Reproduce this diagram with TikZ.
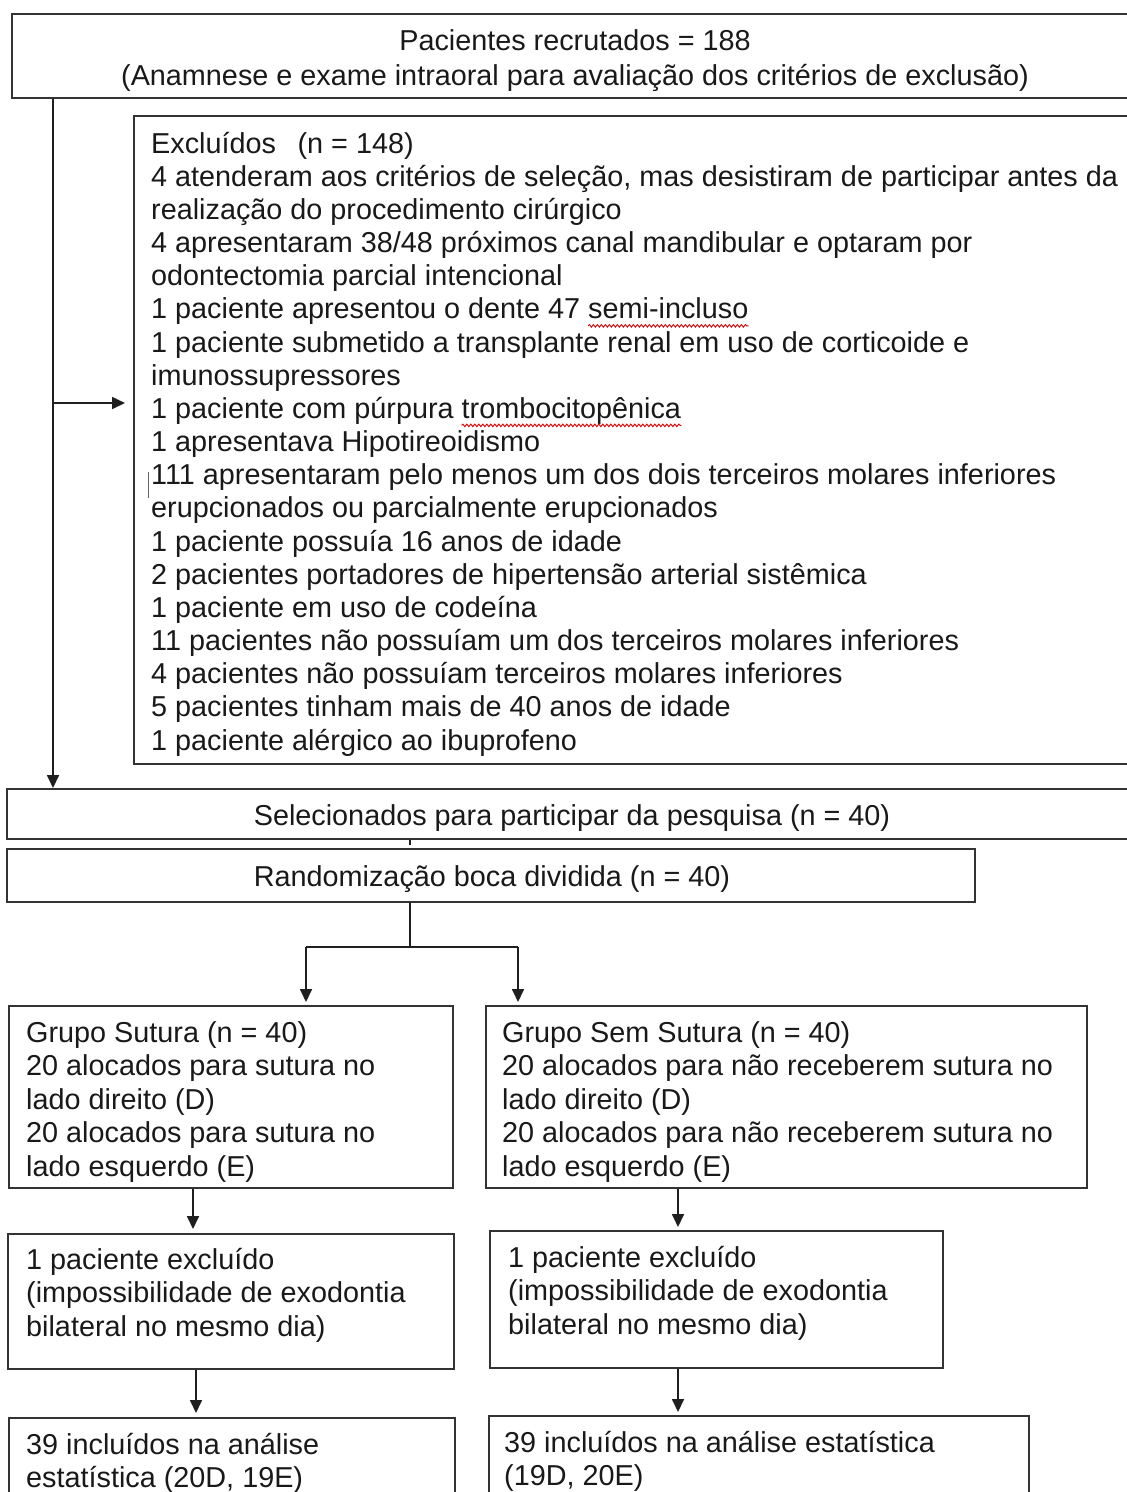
\documentclass[tikz,border=0pt]{standalone}
\usepackage{fontspec}
\setmainfont{Liberation Sans}
\usetikzlibrary{arrows.meta,decorations.pathmorphing,calc}
\begin{document}
\begin{tikzpicture}[x=1pt,y=-1pt,
  box/.style={draw=black!80, line width=1.7pt, inner sep=0pt, anchor=north west, rectangle},
  txt/.style={inner sep=0pt, anchor=base west, text=black!90, font=\fontsize{28.8}{33}\selectfont},
  ctxt/.style={txt, anchor=base},
  ln/.style={draw=black!88, line width=1.7pt},
  arr/.style={ln, -{Triangle[length=13pt,width=12pt]}},
  wavy/.style={draw=red!85!black, line width=0.9pt, decorate, decoration={snake, amplitude=1.3pt, segment length=4pt}},
]
\useasboundingbox (0,0) rectangle (1127,1492);
\clip (0,0) rectangle (1127,1492);
\fill[white] (0,0) rectangle (1127,1492);

% boxes
\node[box, minimum width=1140pt, minimum height=84pt] (top) at (11,13) {};
\node[box, minimum width=1010pt, minimum height=648pt] (excl) at (133,115) {};
\node[box, minimum width=1140pt, minimum height=50pt] (sel) at (6,788) {};
\node[box, minimum width=968pt, minimum height=53pt] (rand) at (6,848) {};
\node[box, minimum width=444pt, minimum height=182pt] (g1) at (8,1005) {};
\node[box, minimum width=601pt, minimum height=182pt] (g2) at (485,1005) {};
\node[box, minimum width=446pt, minimum height=135pt] (e1) at (7,1233) {};
\node[box, minimum width=453pt, minimum height=137pt] (e2) at (489,1230) {};
\node[box, minimum width=446pt, minimum height=110pt] (r1) at (8,1417) {};
\node[box, minimum width=540pt, minimum height=110pt] (r2) at (488,1415) {};

% texts
\node[ctxt] (t1) at (575,50) {Pacientes recrutados = 188};
\node[ctxt] (t2) at (575,85) {(Anamnese e exame intraoral para avaliação dos critérios de exclusão)};

\foreach \t [count=\i] in {
  {Excluídos\hspace{0.75em}(n = 148)},
  {4 atenderam aos critérios de seleção, mas desistiram de participar antes da},
  {realização do procedimento cirúrgico},
  {4 apresentaram 38/48 próximos canal mandibular e optaram por},
  {odontectomia parcial intencional},
  {1 paciente apresentou o dente 47 semi-incluso},
  {1 paciente submetido a transplante renal em uso de corticoide e},
  {imunossupressores},
  {1 paciente com púrpura trombocitopênica},
  {1 apresentava Hipotireoidismo},
  {111 apresentaram pelo menos um dos dois terceiros molares inferiores},
  {erupcionados ou parcialmente erupcionados},
  {1 paciente possuía 16 anos de idade},
  {2 pacientes portadores de hipertensão arterial sistêmica},
  {1 paciente em uso de codeína},
  {11 pacientes não possuíam um dos terceiros molares inferiores},
  {4 pacientes não possuíam terceiros molares inferiores},
  {5 pacientes tinham mais de 40 anos de idade},
  {1 paciente alérgico ao ibuprofeno}} {
  \node[txt] (ex\i) at (151,{153+(\i-1)*33.17}) {\t};
}
\node[txt, anchor=base east] (w1) at (ex6.base east) {\phantom{semi-incluso}};
\node[txt, anchor=base east] (w2) at (ex9.base east) {\phantom{trombocitopênica}};
\draw[wavy] ($(w1.base west)+(0,7)$) -- ($(w1.base east)+(0,7)$);
\draw[wavy] ($(w2.base west)+(0,7)$) -- ($(w2.base east)+(0,7)$);
\draw[draw=black!60, line width=1pt] (148,472) -- (148,498);

\node[ctxt] (ts) at (572,825) {Selecionados para participar da pesquisa (n = 40)};
\node[ctxt] (tr) at (492,886) {Randomização boca dividida (n = 40)};

\foreach \t [count=\i] in {
  {Grupo Sutura (n = 40)},
  {20 alocados para sutura no},
  {lado direito (D)},
  {20 alocados para sutura no},
  {lado esquerdo (E)}} {
  \node[txt] (ga\i) at (26,{1042+(\i-1)*33.5}) {\t};
}
\foreach \t [count=\i] in {
  {Grupo Sem Sutura (n = 40)},
  {20 alocados para não receberem sutura no},
  {lado direito (D)},
  {20 alocados para não receberem sutura no},
  {lado esquerdo (E)}} {
  \node[txt] (gb\i) at (502,{1042+(\i-1)*33.5}) {\t};
}
\foreach \t [count=\i] in {
  {1 paciente excluído},
  {(impossibilidade de exodontia},
  {bilateral no mesmo dia)}} {
  \node[txt] (ea\i) at (26,{1269+(\i-1)*33.5}) {\t};
  \node[txt] (eb\i) at (508,{1267+(\i-1)*33.5}) {\t};
}
\node[txt] (ra1) at (26,1454) {39 incluídos na análise};
\node[txt] (ra2) at (26,1487) {estatística (20D, 19E)};
\node[txt] (rb1) at (504,1452) {39 incluídos na análise estatística};
\node[txt] (rb2) at (504,1485) {(19D, 20E)};

% connectors
\coordinate (lx) at (53,0);
\coordinate (bend) at (53,403);
\draw[arr] (top.south -| lx) -- (sel.north -| lx);
\draw[arr, shorten >=8pt] (bend) -- (bend -| excl.west);

\coordinate (mx) at (410,0);
\draw[ln] (sel.south -| mx) -- ++(0,5);
\coordinate (sp) at (410,947);
\coordinate (bl) at (306,947);
\coordinate (br) at (518,947);
\draw[ln] (rand.south -| sp) -- (sp);
\draw[ln] (bl) -- (br);
\draw[arr, shorten >=3pt] (bl) -- (bl |- g1.north);
\draw[arr, shorten >=3pt] (br) -- (br |- g2.north);

\coordinate (a1) at (193,0);
\coordinate (a2) at (678,0);
\coordinate (a3) at (196,0);
\draw[arr, shorten >=4pt] (g1.south -| a1) -- (e1.north -| a1);
\draw[arr, shorten >=3pt] (g2.south -| a2) -- (e2.north -| a2);
\draw[arr, shorten >=4pt] (e1.south -| a3) -- (r1.north -| a3);
\draw[arr, shorten >=3pt] (e2.south -| a2) -- (r2.north -| a2);
\end{tikzpicture}
\end{document}
